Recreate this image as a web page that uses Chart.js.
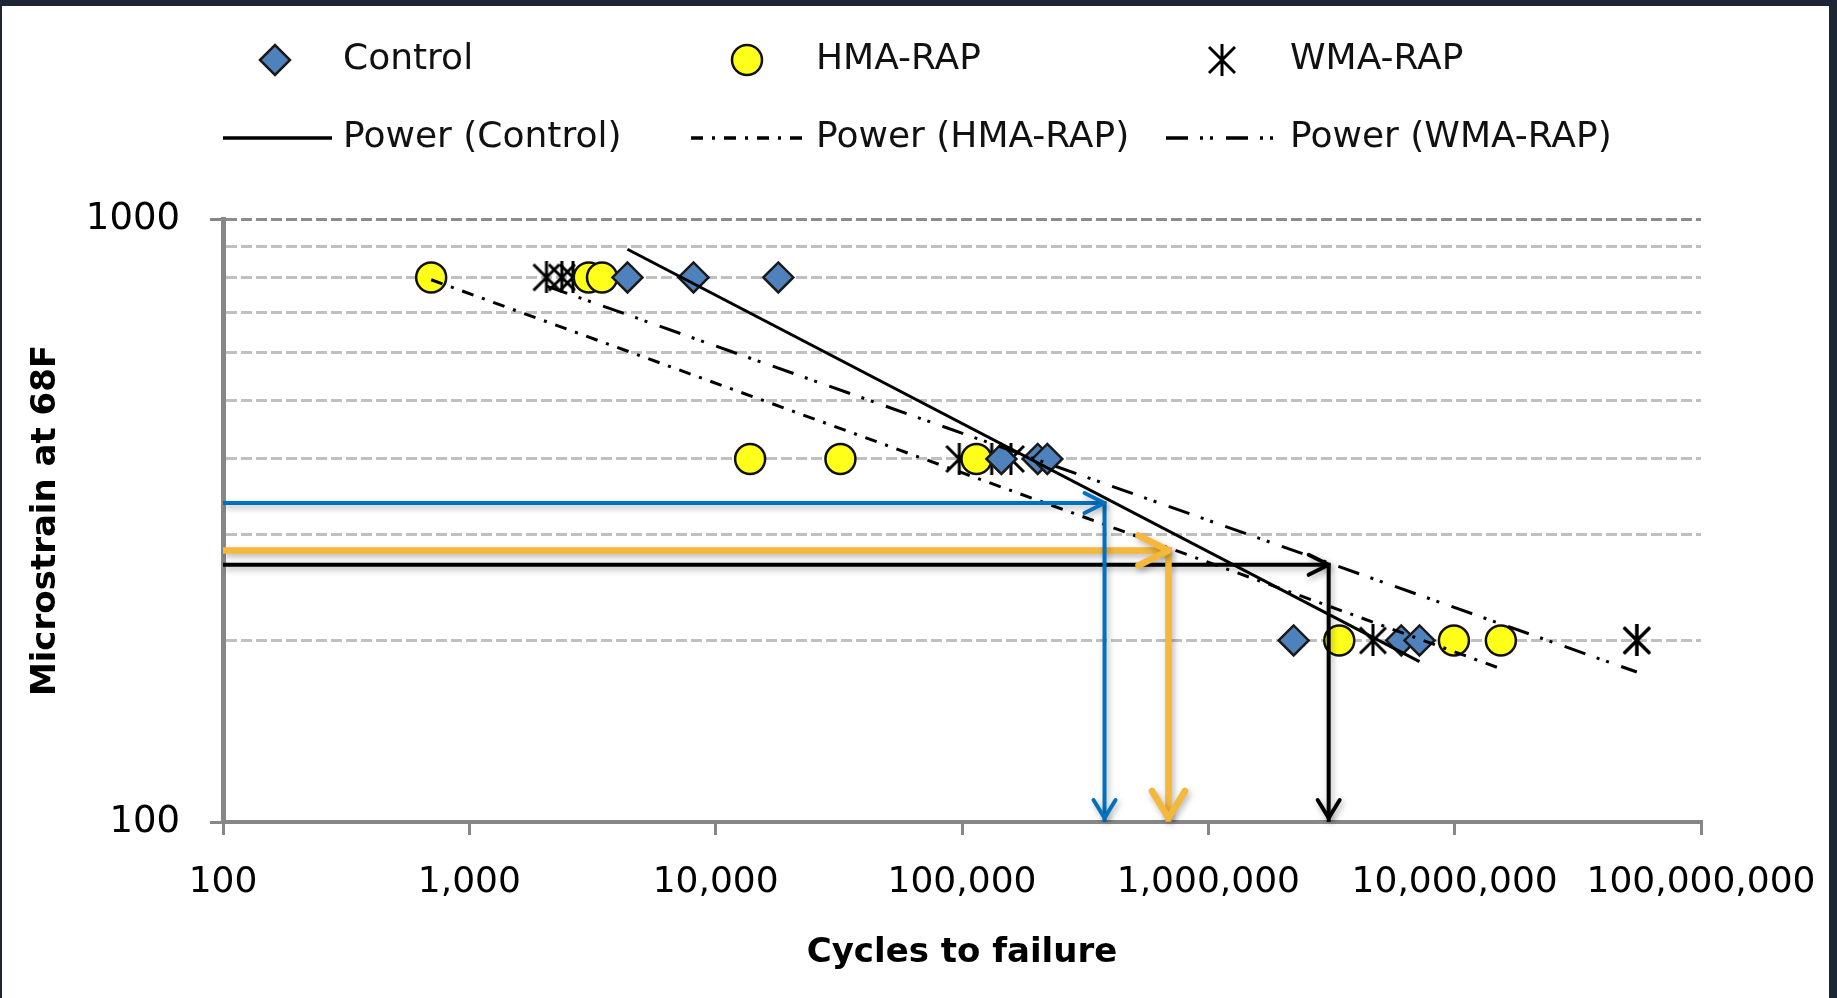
<!DOCTYPE html>
<html>
<head>
<meta charset="utf-8">
<title>Microstrain at 68F vs cycles to failure</title>
<script src="https://cdn.jsdelivr.net/npm/chart.js@4.4.1/dist/chart.umd.min.js"></script>
<style>
  html, body { margin: 0; padding: 0; }
  body { width: 1837px; height: 998px; background: #1d2636; position: relative; overflow: hidden; }
  #panel { position: absolute; left: 2px; top: 6px; width: 1827px; height: 992px; background: #fff; }
  #wrap { position: absolute; left: 0; top: 0; width: 1837px; height: 998px; }
</style>
</head>
<body>
<div id="panel"></div>
<div id="wrap"><canvas id="fatigueChart"></canvas></div>
<script>
// beam fatigue results, three beams at each strain level (800 / 400 / 200)
const controlCycles = [4385, 8130, 17960, 144500, 203000, 222000, 2220000, 6070000, 7200000];
const controlStrain = [800, 800, 800, 400, 400, 400, 200, 200, 200];
const hmaCycles = [700, 3054, 3456, 13800, 32100, 114500, 3400000, 9930000, 15400000];
const hmaStrain = [800, 800, 800, 400, 400, 400, 200, 200, 200];
const wmaCycles = [2057, 2375, 2634, 97500, 132000, 158000, 4660000, 54900000, 54900000];
const wmaStrain = [800, 800, 800, 400, 400, 400, 200, 200, 200];

// power trendlines, read at both ends
const controlFitCycles = [4385, 7200000];
const controlFitStrain = [891, 184.5];
const hmaFitCycles = [700, 15400000];
const hmaFitStrain = [793, 179.6];
const wmaFitCycles = [2057, 54900000];
const wmaFitStrain = [774, 177.3];

// read-off arrows (blue, yellow, black): strain level -> cycles
const arrowStrain = [338, 282, 267];
const arrowCycles = [379000, 689000, 3080000];

const xTicks = [100, 1000, 10000, 100000, 1000000, 10000000, 100000000];
const yTicks = [100, 200, 300, 400, 500, 600, 700, 800, 900, 1000];
const yTickLabels = ['100', '', '', '', '', '', '', '', '', '1000'];

const arrowColors = ['#0070C0', '#F5B83A', '#000000'];
const arrowWidths = [4, 6.5, 4];
const arrowHeads = [10, 15, 10];

const FONT = '"DejaVu Sans", sans-serif';
Chart.defaults.font.family = FONT;
Chart.defaults.color = '#111';

function pts(xs, ys) {
    return xs.map((x, i) => ({ x: x, y: ys[i] }));
}

// Excel style star marker: an X with a vertical bar
function makeStar(size, lw) {
    const c = document.createElement('canvas');
    c.width = size;
    c.height = size;
    const g = c.getContext('2d');
    g.strokeStyle = '#000';
    g.lineWidth = lw;
    g.beginPath();
    g.moveTo(size / 2, 0); g.lineTo(size / 2, size);
    g.moveTo(lw, lw); g.lineTo(size - lw, size - lw);
    g.moveTo(size - lw, lw); g.lineTo(lw, size - lw);
    g.stroke();
    return c;
}
const starImg = makeStar(32, 3);

const datasets = [
    {
        label: 'Control', data: pts(controlCycles, controlStrain),
        pointStyle: 'rectRot', pointRadius: 15, backgroundColor: '#4F81BD',
        borderColor: '#1a1a1a', borderWidth: 2.5, order: 3
    },
    {
        label: 'HMA-RAP', data: pts(hmaCycles, hmaStrain),
        pointStyle: 'circle', pointRadius: 15, backgroundColor: '#FFFF1A',
        borderColor: '#111', borderWidth: 2.5, order: 3
    },
    {
        label: 'WMA-RAP', data: pts(wmaCycles, wmaStrain),
        pointStyle: starImg, pointRadius: 16, backgroundColor: '#000',
        borderColor: '#000', borderWidth: 3, order: 3
    },
    {
        label: 'Power (Control)', data: pts(controlFitCycles, controlFitStrain),
        showLine: true, pointRadius: 0, borderColor: '#000', borderWidth: 3,
        borderDash: [], order: 2
    },
    {
        label: 'Power (HMA-RAP)', data: pts(hmaFitCycles, hmaFitStrain),
        showLine: true, pointRadius: 0, borderColor: '#000', borderWidth: 3,
        borderDash: [12, 9, 3, 9], order: 2
    },
    {
        label: 'Power (WMA-RAP)', data: pts(wmaFitCycles, wmaFitStrain),
        showLine: true, pointRadius: 0, borderColor: '#000', borderWidth: 3,
        borderDash: [22, 12, 3, 7, 3, 13], order: 2
    }
];

arrowStrain.forEach((s, i) => {
    datasets.push({
        label: 'arrow' + i,
        data: [
            { x: xTicks[0], y: s },
            { x: arrowCycles[i], y: s },
            { x: arrowCycles[i], y: yTicks[0] }
        ],
        showLine: true, pointRadius: 0, borderColor: arrowColors[i],
        borderWidth: arrowWidths[i], headSize: arrowHeads[i], isArrow: true,
        order: 1
    });
});

// shadow + open arrow heads on the read-off lines
const arrowPlugin = {
    id: 'arrows',
    beforeDatasetDraw(chart, args) {
        const ds = chart.data.datasets[args.index];
        if (!ds.isArrow) return;
        const ctx = chart.ctx;
        ctx.save();
        ctx.shadowColor = 'rgba(0,0,0,0.3)';
        ctx.shadowBlur = 6;
        ctx.shadowOffsetX = 2;
        ctx.shadowOffsetY = 3;
    },
    afterDatasetDraw(chart, args) {
        const ds = chart.data.datasets[args.index];
        if (!ds.isArrow) return;
        const ctx = chart.ctx;
        const p = args.meta.data;
        const h = ds.headSize;
        ctx.strokeStyle = ds.borderColor;
        ctx.lineWidth = ds.borderWidth;
        ctx.lineCap = 'round';
        ctx.lineJoin = 'round';
        ctx.beginPath();
        ctx.moveTo(p[1].x - h * 2, p[1].y - h);
        ctx.lineTo(p[1].x, p[1].y);
        ctx.lineTo(p[1].x - h * 2, p[1].y + h);
        ctx.moveTo(p[2].x - h * 1.1, p[2].y - 4 - h * 1.8);
        ctx.lineTo(p[2].x, p[2].y - 4);
        ctx.lineTo(p[2].x + h * 1.1, p[2].y - 4 - h * 1.8);
        ctx.stroke();
        ctx.restore();
    }
};

// two-row legend laid out like the spreadsheet one
const legendPlugin = {
    id: 'sheetLegend',
    afterDraw(chart) {
        const ctx = chart.ctx;
        const ds = chart.data.datasets;
        const markerX = [275, 747, 1222];
        const textX = [343, 816, 1290];
        const lineX = [[223, 332], [691, 806], [1166, 1280]];
        const row1 = 60, row2 = 138;
        ctx.save();
        ctx.font = '36px ' + FONT;
        ctx.textBaseline = 'middle';
        for (let i = 0; i < 3; i++) {
            const s = ds[i];
            ctx.fillStyle = s.backgroundColor;
            ctx.strokeStyle = s.borderColor;
            ctx.lineWidth = s.borderWidth;
            ctx.setLineDash([]);
            Chart.helpers.drawPoint(ctx, { pointStyle: s.pointStyle, radius: s.pointRadius, borderWidth: s.borderWidth, rotation: 0 }, markerX[i], row1);
            ctx.fillStyle = '#111';
            ctx.fillText(s.label, textX[i], row1);

            const t = ds[i + 3];
            ctx.strokeStyle = t.borderColor;
            ctx.lineWidth = 3.5;
            ctx.setLineDash(t.borderDash);
            ctx.beginPath();
            ctx.moveTo(lineX[i][0], row2);
            ctx.lineTo(lineX[i][1], row2);
            ctx.stroke();
            ctx.setLineDash([]);
            ctx.fillText(t.label, textX[i], row2);
        }
        ctx.restore();
    }
};

const axisGray = '#878787';

new Chart(document.getElementById('fatigueChart'), {
    type: 'scatter',
    data: { datasets: datasets },
    plugins: [arrowPlugin, legendPlugin],
    options: {
        responsive: true,
        maintainAspectRatio: false,
        animation: false,
        events: [],
        layout: { padding: { top: 219, right: 136, left: 0, bottom: 0 } },
        plugins: {
            legend: { display: false },
            tooltip: { enabled: false }
        },
        scales: {
            x: {
                type: 'logarithmic',
                min: xTicks[0],
                max: xTicks[xTicks.length - 1],
                afterBuildTicks: (scale) => { scale.ticks = xTicks.map(v => ({ value: v })); },
                afterFit: (scale) => { scale.height = 176; },
                ticks: {
                    autoSkip: false, maxRotation: 0, padding: 20,
                    font: { size: 36, lineHeight: 1.55 }, color: '#000',
                    callback: (v) => Number(v).toLocaleString('en-US')
                },
                grid: {
                    drawOnChartArea: false, drawTicks: true, tickLength: 13,
                    tickColor: axisGray, tickWidth: 3, lineWidth: 3, tickBorderDash: []
                },
                border: { color: axisGray, width: 4 },
                title: {
                    display: true, text: 'Cycles to failure', color: '#000',
                    font: { size: 34, weight: 'bold' }, padding: { top: 0, bottom: 24 }
                }
            },
            y: {
                type: 'logarithmic',
                min: yTicks[0],
                max: yTicks[yTicks.length - 1],
                afterBuildTicks: (scale) => { scale.ticks = yTicks.map(v => ({ value: v })); },
                afterFit: (scale) => { scale.width = 223; },
                ticks: {
                    autoSkip: false, padding: 30,
                    font: { size: 37 }, color: '#000',
                    callback: (v) => yTickLabels[yTicks.indexOf(Number(v))] || ''
                },
                grid: {
                    lineWidth: 3, tickLength: 13, tickWidth: 3, tickBorderDash: [],
                    color: (c) => {
                        if (!c.tick) return 'transparent';
                        if (c.tick.value === yTicks[0]) return 'transparent';
                        if (c.tick.value === yTicks[yTicks.length - 1]) return '#8c8c8c';
                        return '#c0c0c0';
                    },
                    tickColor: (c) => {
                        if (!c.tick) return 'transparent';
                        const v = c.tick.value;
                        return (v === yTicks[0] || v === yTicks[yTicks.length - 1]) ? axisGray : 'transparent';
                    }
                },
                border: { color: axisGray, width: 5, dash: [11, 4] },
                title: {
                    display: true, text: 'Microstrain at 68F', color: '#000',
                    font: { size: 34, weight: 'bold' }, padding: { top: 26, bottom: 0 }
                }
            }
        }
    }
});
</script>
</body>
</html>
